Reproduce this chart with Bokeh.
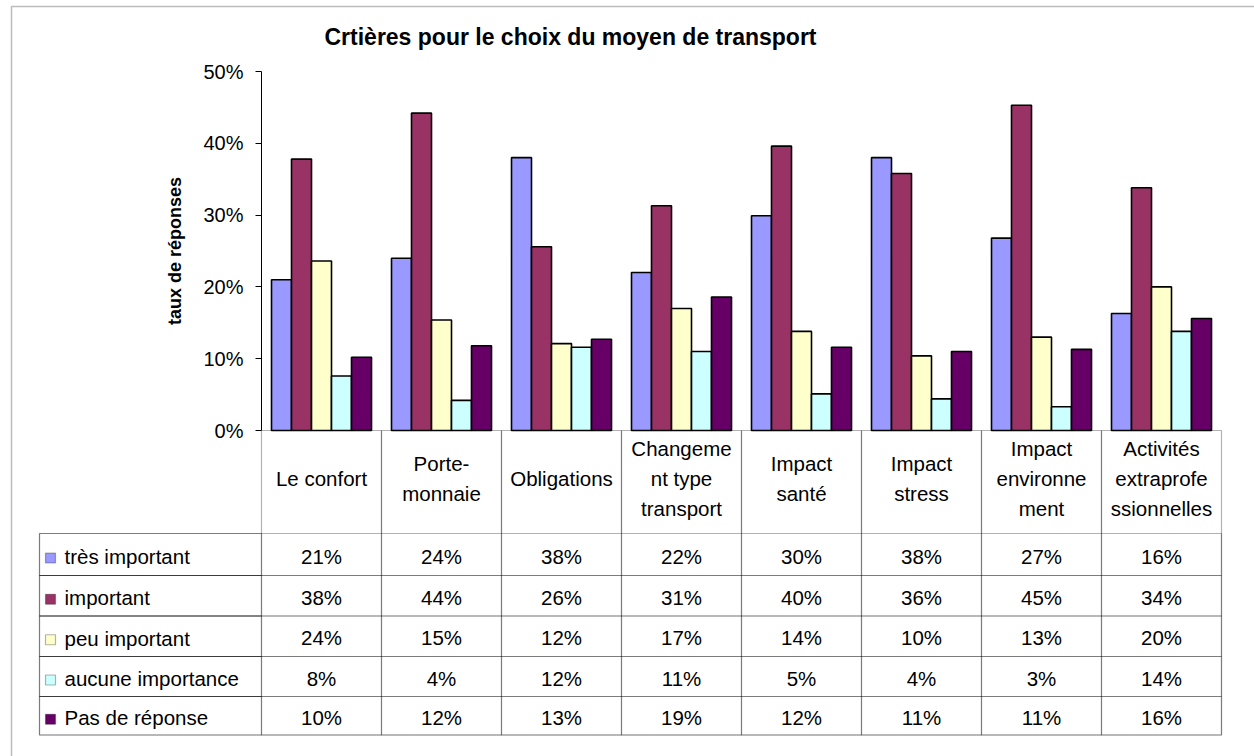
from bokeh.plotting import figure
from bokeh.models import (Range1d, LinearAxis, FixedTicker,
                          NumeralTickFormatter, BoxAnnotation, Label, ColumnDataSource)
from bokeh.transform import dodge
from bokeh.embed import file_html
from bokeh.resources import INLINE

# ---------------- data ----------------
categories = ["Le confort", "Porte-\nmonnaie", "Obligations", "Changeme\nnt type\ntransport",
              "Impact\nsanté", "Impact\nstress", "Impact\nenvironne\nment",
              "Activités\nextraprofe\nssionnelles"]
series = ["très important", "important", "peu important", "aucune importance", "Pas de réponse"]
tres_important = [21.0, 24.0, 38.0, 22.0, 29.9, 38.0, 26.8, 16.3]
important = [37.8, 44.2, 25.6, 31.3, 39.6, 35.8, 45.3, 33.8]
peu_important = [23.6, 15.4, 12.1, 17.0, 13.8, 10.4, 13.0, 20.0]
aucune_importance = [7.6, 4.2, 11.6, 11.0, 5.1, 4.4, 3.3, 13.8]
pas_de_reponse = [10.2, 11.8, 12.7, 18.6, 11.6, 11.0, 11.3, 15.6]
colors = ["#9999FF", "#993366", "#FFFFCC", "#CCFFFF", "#660066"]
title = "Crtières pour le choix du moyen de transport"
y_label = "taux de réponses"
y_ticks = [0, 0.1, 0.2, 0.3, 0.4, 0.5]

data = [tres_important, important, peu_important, aucune_importance, pas_de_reponse]

# ---------------- layout (canvas pixels) ----------------
FONT = "Liberation Sans"
W, H = 1254, 756
AX_X, TABLE_R, TOP_50, ZERO_Y = 261, 1221, 71, 430
CAT_W = (TABLE_R - AX_X) / len(categories)
PX_PER_UNIT = (ZERO_Y - TOP_50) / 0.5
TABLE_L = 39
ROW_EDGES = [533, 575, 615.5, 656, 696, 734.5]
HEADER_MID = 478
LINE_H = 30
TXT = "20.5px"


def X(px):
    return (px - AX_X) / CAT_W


def Y(py):
    return (ZERO_Y - py) / PX_PER_UNIT


p = figure(width=W, height=H,
           x_range=Range1d(X(0), X(W)), y_range=Range1d(Y(H), Y(0)),
           output_backend="svg", toolbar_location=None,
           x_axis_location=None, y_axis_location=None,
           min_border=0, min_border_left=0, min_border_right=0,
           min_border_top=0, min_border_bottom=0)
p.outline_line_color = None
p.background_fill_color = "white"
p.border_fill_color = "white"
p.xgrid.visible = False
p.ygrid.visible = False

yaxis = LinearAxis(ticker=FixedTicker(ticks=y_ticks),
                   formatter=NumeralTickFormatter(format="0%"),
                   axis_label=y_label, fixed_location=0, bounds=(0, 0.5))
yaxis.axis_line_color = "black"
yaxis.axis_line_width = 1
yaxis.major_tick_line_color = "black"
yaxis.major_tick_out = 6
yaxis.major_tick_in = 0
yaxis.minor_tick_line_color = None
yaxis.major_label_standoff = 12
yaxis.major_label_text_font = FONT
yaxis.major_label_text_font_size = "20px"
yaxis.major_label_text_color = "black"
yaxis.axis_label_text_font = FONT
yaxis.axis_label_text_font_size = "18px"
yaxis.axis_label_text_font_style = "bold"
yaxis.axis_label_text_color = "black"
yaxis.axis_label_standoff = 15
p.add_layout(yaxis, "left")

# bars
n = len(series)
bw = 1 / (n + 1)
idx = [i + 0.5 for i in range(len(categories))]
for j, (name, vals, col) in enumerate(zip(series, data, colors)):
    src = ColumnDataSource(dict(idx=idx, cat=categories, v=[v / 100 for v in vals]))
    p.vbar(x=dodge("idx", (j - (n - 1) / 2) * bw), top="v", width=bw,
           source=src, fill_color=col, line_color="black", line_width=1.6)

# outer chart border
p.add_layout(BoxAnnotation(left=X(11), right=X(1300), top=Y(6), bottom=Y(800),
                           fill_alpha=0, line_color="#222222", line_width=1.5))

# title
p.add_layout(Label(x=X(570), y=Y(36), text=title, text_font=FONT, text_font_size="23px",
                   text_font_style="bold", text_align="center", text_baseline="middle",
                   text_color="black"))

# table: category columns
for i in range(len(categories)):
    p.add_layout(BoxAnnotation(left=i, right=i + 1, top=0, bottom=Y(ROW_EDGES[-1]),
                               fill_alpha=0, line_color="black", line_width=1.2))
# table: rows
for r in range(n):
    p.add_layout(BoxAnnotation(left=X(TABLE_L), right=len(categories),
                               top=Y(ROW_EDGES[r]), bottom=Y(ROW_EDGES[r + 1]),
                               fill_alpha=0, line_color="black", line_width=1.2))
    p.add_layout(BoxAnnotation(left=X(TABLE_L), right=0,
                               top=Y(ROW_EDGES[r]), bottom=Y(ROW_EDGES[r + 1]),
                               fill_alpha=0, line_color="black", line_width=1.2))

# header labels
for i, cat in enumerate(categories):
    lines = cat.split("\n")
    for k, ln in enumerate(lines):
        cy = HEADER_MID + (k - (len(lines) - 1) / 2) * LINE_H
        p.add_layout(Label(x=i + 0.5, y=Y(cy), text=ln, text_font=FONT, text_font_size=TXT,
                           text_align="center", text_baseline="middle", text_color="black"))

# legend rows and values
for r, (name, vals, col) in enumerate(zip(series, data, colors)):
    mid = (ROW_EDGES[r] + ROW_EDGES[r + 1]) / 2
    sq = mid + 3.5
    p.add_layout(BoxAnnotation(left=X(45), right=X(55), top=Y(sq - 5), bottom=Y(sq + 5),
                               fill_color=col, fill_alpha=1, line_color="black", line_width=1.2))
    p.add_layout(Label(x=X(64), y=Y(mid + 2), text=name, text_font=FONT, text_font_size=TXT,
                       text_align="left", text_baseline="middle", text_color="black"))
    for i, v in enumerate(vals):
        p.add_layout(Label(x=i + 0.5, y=Y(mid + 1.5), text=f"{round(v)}%", text_font=FONT,
                           text_font_size=TXT, text_align="center", text_baseline="middle",
                           text_color="black"))

open("out.html", "w").write(file_html(p, INLINE))
